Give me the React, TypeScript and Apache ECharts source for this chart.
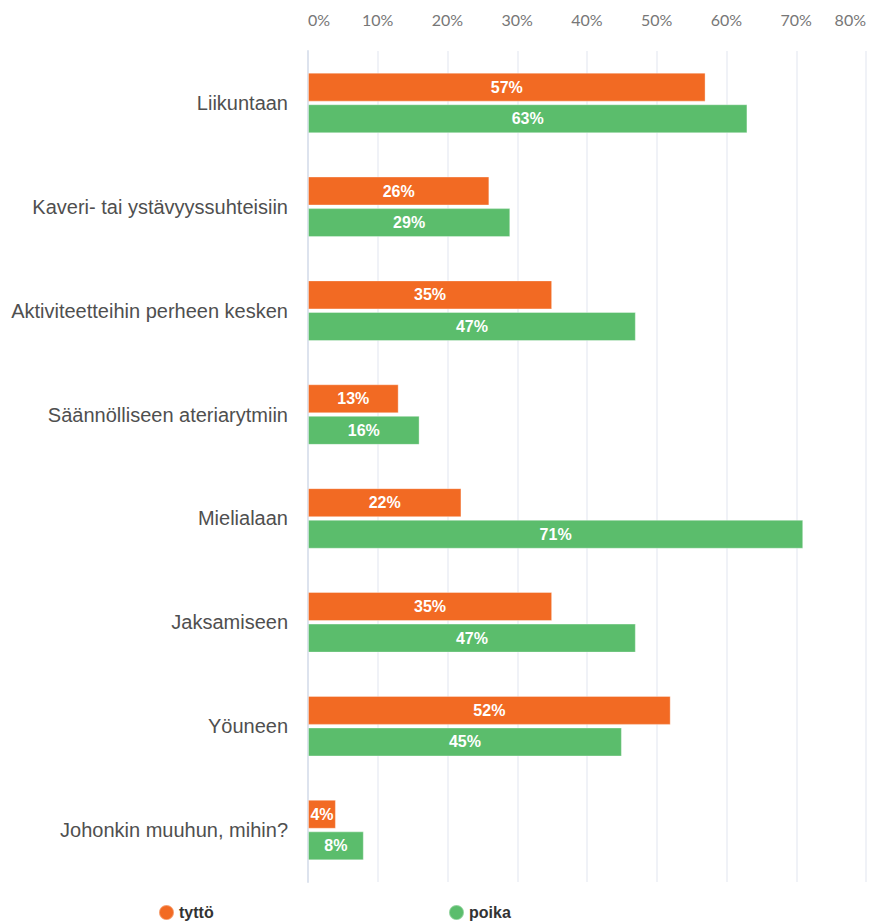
import React, { useEffect, useRef } from "react";
import * as echarts from "echarts";

const categories = [
  "Liikuntaan",
  "Kaveri- tai ystävyyssuhteisiin",
  "Aktiviteetteihin perheen kesken",
  "Säännölliseen ateriarytmiin",
  "Mielialaan",
  "Jaksamiseen",
  "Yöuneen",
  "Johonkin muuhun, mihin?",
];
const tytto = [57, 26, 35, 13, 22, 35, 52, 4];
const poika = [63, 29, 47, 16, 71, 47, 45, 8];
const seriesNames = ["tyttö", "poika"];
const colors = ["#F26A23", "#5BBD6C"];

export default function App() {
  const ref = useRef<HTMLDivElement>(null);
  useEffect(() => {
    if (!ref.current) return;
    const chart = echarts.init(ref.current, null, { renderer: "svg" });
    const label = {
      show: true,
      position: "inside",
      formatter: "{c}%",
      color: "#ffffff",
      fontFamily: "Liberation Sans",
      fontWeight: "bold",
      fontSize: 16,
    };
    const legendText = { color: "#333333", fontFamily: "Liberation Sans", fontWeight: "bold", fontSize: 16 };
    chart.setOption({
      animation: false,
      backgroundColor: "#ffffff",
      grid: { left: 308, right: 1, top: 51, bottom: 40, containLabel: false },
      xAxis: {
        type: "value",
        position: "top",
        min: 0,
        max: 80,
        interval: 10,
        axisLine: { show: false },
        axisTick: { show: false },
        splitLine: { show: true, lineStyle: { color: "#f0f2f7", width: 2 } },
        axisLabel: {
          formatter: "{value}%",
          color: "#777777",
          fontFamily: "Lato",
          fontSize: 16,
          margin: 24,
          alignMinLabel: "left",
          alignMaxLabel: "right",
        },
      },
      yAxis: {
        type: "category",
        data: categories,
        inverse: true,
        axisLine: { show: true, lineStyle: { color: "#dde3ee", width: 2 } },
        axisTick: { show: false },
        axisLabel: {
          color: "#4f4f4f",
          fontFamily: "Liberation Sans",
          fontSize: 20,
          margin: 20,
        },
      },
      legend: [
        {
          data: [seriesNames[0]],
          left: 158,
          top: 904,
          padding: 0,
          icon: "circle",
          itemWidth: 15,
          itemHeight: 15,
          itemGap: 5,
          textStyle: legendText,
        },
        {
          data: [seriesNames[1]],
          left: 448,
          top: 904,
          padding: 0,
          icon: "circle",
          itemWidth: 15,
          itemHeight: 15,
          itemGap: 5,
          textStyle: legendText,
        },
      ],
      series: [
        {
          name: seriesNames[0],
          type: "bar",
          data: tytto,
          barWidth: 29,
          barGap: "9%",
          itemStyle: { color: colors[0], borderColor: "rgba(255,255,255,0.35)", borderWidth: 1 },
          label,
        },
        {
          name: seriesNames[1],
          type: "bar",
          data: poika,
          barWidth: 29,
          barGap: "9%",
          itemStyle: { color: colors[1], borderColor: "rgba(255,255,255,0.35)", borderWidth: 1 },
          label,
        },
      ],
    });
    return () => chart.dispose();
  }, []);
  return (
    <div
      ref={ref}
      style={{ position: "absolute", left: 0, top: 0, width: 869, height: 922, background: "#fff" }}
    />
  );
}
